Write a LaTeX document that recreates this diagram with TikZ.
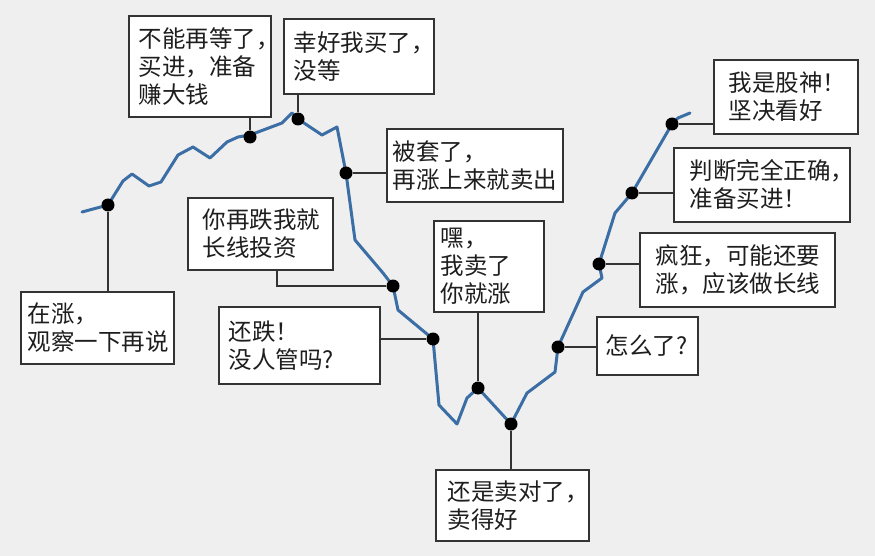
\documentclass[tikz,border=0pt]{standalone}
\usepackage{fontspec}
\newfontfamily\cjk{Noto Sans CJK SC}
\definecolor{bgc}{HTML}{EFEFEF}
\definecolor{linec}{HTML}{3C6EA6}
\definecolor{boxc}{HTML}{333333}
\definecolor{txtc}{HTML}{1E1E1E}
\tikzset{
  bubble/.style={draw=boxc, line width=1.8pt, fill=white, inner ysep=0pt,
    anchor=north west, align=left, text=txtc,
    font=\cjk\fontsize{23.5}{28}\selectfont},
  dotmark/.style={circle, fill=black, inner sep=0pt, minimum size=13pt},
  conn/.style={draw=boxc, line width=1.4pt},
  price/.style={draw=linec, line width=3pt, line join=round, line cap=round}
}
\newcommand{\bx}[7]{%
  \node[bubble, minimum width=#4pt, minimum height=#5pt, inner xsep=#6pt,
        text width=#4pt-2*#6pt] (#1) at (#2,#3) {#7};}
\begin{document}
\begin{tikzpicture}[x=1pt,y=-1pt]
\fill[bgc] (0,0) rectangle (875,556);
\useasboundingbox (0,0) rectangle (875,556);
% price line
\draw[price] (82,212) -- (108,205) -- (123,181) -- (132,174) -- (149,186) -- (161,182)
  -- (178,155) -- (193,147) -- (210,158) -- (227,142) -- (238,137) -- (250,135)
  -- (282,123) -- (292,113) -- (298,119) -- (322,135) -- (337,127) -- (346,173)
  -- (355,240) -- (383,273) -- (393,286) -- (398,310) -- (433,339) -- (439,405)
  -- (457,424) -- (467,398) -- (478,388) -- (511,424) -- (527,393) -- (555,372)
  -- (558,347) -- (583,292) -- (602,278) -- (599,264) -- (615,213) -- (632,193)
  -- (672,124) -- (678,118) -- (690,113);
% dots
\node[dotmark] (d1) at (108,205) {};
\node[dotmark] (d2) at (250,137) {};
\node[dotmark] (d3) at (298,119) {};
\node[dotmark] (d4) at (346,173) {};
\node[dotmark] (d5) at (393,286) {};
\node[dotmark] (d6) at (433,339) {};
\node[dotmark] (d7) at (478,388) {};
\node[dotmark] (d8) at (511,424) {};
\node[dotmark] (d9) at (558,347) {};
\node[dotmark] (d10) at (599,264) {};
\node[dotmark] (d11) at (632,193) {};
\node[dotmark] (d12) at (672,124) {};
% boxes
\bx{b1}{20}{291}{153}{72}{7}{在涨，\\观察一下再说}
\bx{b2}{128}{15}{142}{101}{10}{不能再等了，\\买进，准备\\赚大钱}
\bx{b3}{283}{18}{150}{75}{10}{幸好我买了，\\没等}
\bx{b4}{386}{128}{176}{73}{6}{被套了，\\再涨上来就卖出}
\bx{b5}{187}{197}{145}{72}{15}{你再跌我就\\长线投资}
\bx{b6}{218}{306}{161}{77}{10}{还跌！\\没人管吗?}
\bx{b7}{433}{220}{110}{91}{7}{嘿，\\我卖了\\你就涨}
\bx{b8}{435}{469}{153}{71}{12}{还是卖对了，\\卖得好}
\bx{b9}{596}{316}{101}{58}{9}{怎么了?}
\bx{b10}{639}{232}{195}{74}{16}{疯狂，可能还要\\涨，应该做长线}
\bx{b11}{673}{147}{176}{74}{16}{判断完全正确，\\准备买进！}
\bx{b12}{713}{59}{144}{74}{15}{我是股神！\\坚决看好}
% connectors
\draw[conn] (d1) -- (d1 |- b1.north);
\draw[conn] (d2) -- (d2 |- b2.south);
\draw[conn] (d3) -- (d3 |- b3.south);
\draw[conn] (d4) -- (d4 -| b4.west);
\coordinate (c5) at ([xshift=16.5pt]b5.south);
\draw[conn] (c5) |- (d5);
\draw[conn] (d6) -- (d6 -| b6.east);
\draw[conn] (d7) -- (d7 |- b7.south);
\draw[conn] (d8) -- (d8 |- b8.north);
\draw[conn] (d9) -- (d9 -| b9.west);
\draw[conn] (d10) -- (d10 -| b10.west);
\draw[conn] (d11) -- (d11 -| b11.west);
\draw[conn] (d12) -- (d12 -| b12.west);
\end{tikzpicture}
\end{document}
